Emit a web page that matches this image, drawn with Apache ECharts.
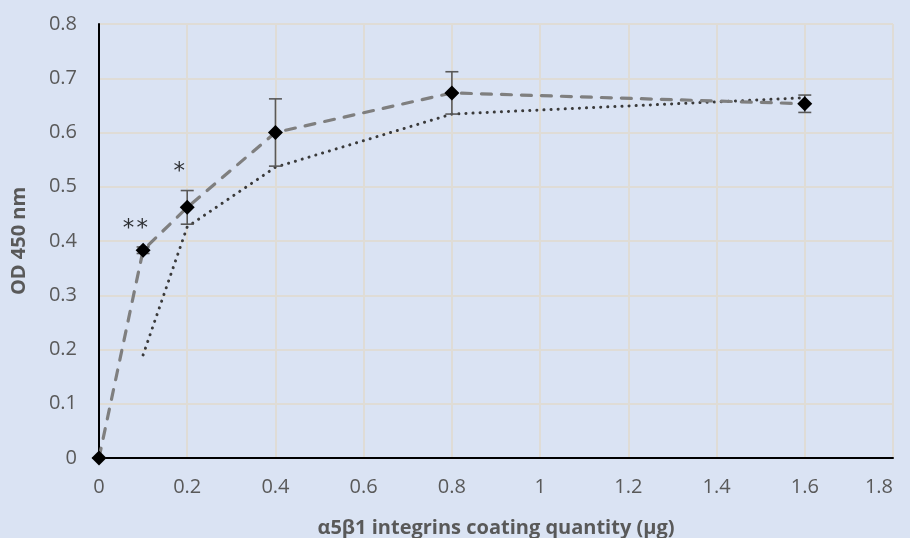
<!DOCTYPE html>
<html>
<head>
<meta charset="utf-8">
<script src="https://cdn.jsdelivr.net/npm/echarts@6/dist/echarts.min.js"></script>
<style>
html,body{margin:0;padding:0;background:#dae3f3;}
#c{width:910px;height:538px;}
</style>
</head>
<body>
<div id="c"></div>
<script>
// Data
const xVals = [0, 0.1, 0.2, 0.4, 0.8, 1.6];
const meanVals = [0, 0.383, 0.462, 0.600, 0.673, 0.653];
const errVals = [0, 0.006, 0.031, 0.062, 0.039, 0.016];
const dotX = [0.1, 0.2, 0.4, 0.8, 1.6];
const dotVals = [0.19, 0.426, 0.536, 0.634, 0.664];
const annoX = [0.067, 0.098, 0.182];
const annoY = [0.422, 0.422, 0.527];
const annoText = ['*', '*', '*'];
const xTicks = [0, 0.2, 0.4, 0.6, 0.8, 1, 1.2, 1.4, 1.6, 1.8];
const yTicks = [0, 0.1, 0.2, 0.3, 0.4, 0.5, 0.6, 0.7, 0.8];

const FONT = '"Open Sans", sans-serif';
const chart = echarts.init(document.getElementById('c'));

const meanData = xVals.map((x, i) => [x, meanVals[i]]);
const errData = xVals.map((x, i) => [x, meanVals[i] - errVals[i], meanVals[i] + errVals[i]]);
const dotData = dotX.map((x, i) => [x, dotVals[i]]);
const annoData = annoX.map((x, i) => [x, annoY[i], annoText[i]]);

const fmt = v => String(+(+v).toFixed(1));

chart.setOption({
  backgroundColor: '#dae3f3',
  animation: false,
  grid: { left: 99, top: 24, right: 17, bottom: 80, containLabel: false, outerBoundsMode: 'none' },
  xAxis: {
    type: 'value', min: xTicks[0], max: xTicks[xTicks.length - 1], interval: 0.2,
    name: 'α5β1 integrins coating quantity (µg)',
    nameLocation: 'middle', nameGap: 60,
    nameTextStyle: { fontFamily: FONT, fontWeight: 'bold', fontSize: 20, color: '#595959' },
    axisLine: { show: true, onZero: false, lineStyle: { color: '#000', width: 2 } },
    axisTick: { show: false },
    axisLabel: { fontFamily: FONT, fontSize: 20, color: '#595959', margin: 19, formatter: fmt, alignMaxLabel: 'right' },
    splitLine: { show: true, lineStyle: { color: '#dfdcd6', width: 2 } }
  },
  yAxis: {
    type: 'value', min: yTicks[0], max: yTicks[yTicks.length - 1], interval: 0.1,
    name: 'OD 450 nm',
    nameLocation: 'middle', nameGap: 70,
    nameTextStyle: { fontFamily: FONT, fontWeight: 'bold', fontSize: 20, color: '#595959' },
    axisLine: { show: true, onZero: false, lineStyle: { color: '#000', width: 2 } },
    axisTick: { show: false },
    axisLabel: { fontFamily: FONT, fontSize: 20, color: '#595959', margin: 22, formatter: fmt },
    splitLine: { show: true, lineStyle: { color: '#dfdcd6', width: 2 } }
  },
  series: [
    {
      type: 'line', data: dotData, symbol: 'none', z: 2,
      lineStyle: { color: '#3a3a3a', width: 3, type: [0.1, 7], cap: 'round' }
    },
    {
      type: 'line', data: meanData, symbol: 'none', z: 3,
      lineStyle: { color: '#7f7f7f', width: 3.2, type: [10, 10], cap: 'round' }
    },
    {
      type: 'custom', data: errData, z: 4,
      renderItem: (params, api) => {
        const x = api.value(0);
        const lo = api.coord([x, api.value(1)]);
        const hi = api.coord([x, api.value(2)]);
        const w = 6.5;
        const st = { stroke: '#595959', lineWidth: 1.6 };
        return {
          type: 'group',
          children: [
            { type: 'line', shape: { x1: lo[0], y1: lo[1], x2: hi[0], y2: hi[1] }, style: st },
            { type: 'line', shape: { x1: lo[0] - w, y1: lo[1], x2: lo[0] + w, y2: lo[1] }, style: st },
            { type: 'line', shape: { x1: hi[0] - w, y1: hi[1], x2: hi[0] + w, y2: hi[1] }, style: st }
          ]
        };
      }
    },
    {
      type: 'scatter', data: meanData, symbol: 'diamond', symbolSize: [15, 15], z: 5,
      itemStyle: { color: '#000', opacity: 1 }
    },
    {
      type: 'scatter', data: annoData, symbolSize: 0, z: 6,
      label: {
        show: true, position: 'inside', formatter: p => p.data[2],
        fontFamily: '"DejaVu Sans", sans-serif', fontSize: 23, color: '#000'
      }
    }
  ]
});
</script>
</body>
</html>
